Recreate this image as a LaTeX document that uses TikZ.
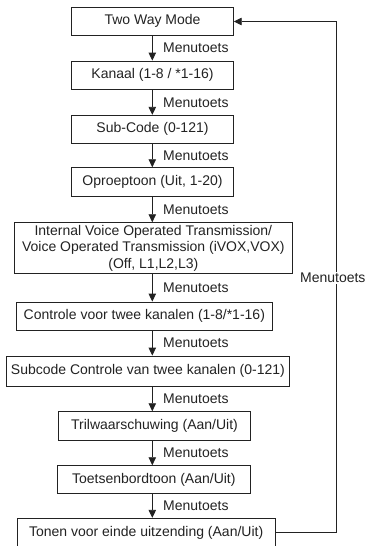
\documentclass[tikz,border=0pt]{standalone}
\usepackage{fontspec}
\setmainfont{Liberation Sans}
\usetikzlibrary{arrows.meta}
\definecolor{ink}{HTML}{222222}
\begin{document}
\begin{tikzpicture}[x=0.75pt,y=-0.75pt,
  box/.style={draw=ink,line width=0.65pt,inner sep=0pt,align=center,text=ink,
    font=\fontsize{10.5pt}{12.4pt}\selectfont},
  arr/.style={draw=ink,line width=0.65pt,-{Triangle[width=5.6pt,length=6pt]}},
  lab/.style={text=ink,font=\fontsize{10.5pt}{12.4pt}\selectfont,inner sep=0pt,anchor=west}]
\useasboundingbox (0,0) rectangle (370,546);
\newcommand{\mybox}[6]{%
  \node[box,minimum width={(#4-#2)*0.75pt},minimum height={(#5-#3)*0.75pt}]
    (#1) at ({(#2+#4)/2},{(#3+#5)/2}) {#6};}
\mybox{b1}{71.7}{7.3}{233.3}{35}{Two Way Mode}
\mybox{b2}{71.7}{61}{233.3}{89.3}{Kanaal (1-8 / *1-16)}
\mybox{b3}{71.7}{115.3}{233.3}{143.3}{Sub-Code (0-121)}
\mybox{b4}{71.7}{167.7}{233.3}{196.7}{Oproeptoon (Uit, 1-20)}
\mybox{b5}{14}{222.7}{292.7}{273.3}{Internal Voice Operated Transmission/\\Voice Operated Transmission (iVOX,VOX)\\(Off, L1,L2,L3)}
\mybox{b6}{16}{302}{272.7}{330}{Controle voor twee kanalen (1-8/*1-16)}
\mybox{b7}{6.5}{356}{289.3}{386.7}{Subcode Controle van twee kanalen (0-121)}
\mybox{b8}{58.3}{411.7}{250.7}{440}{Trilwaarschuwing (Aan/Uit)}
\mybox{b9}{57.7}{465.7}{250}{493.3}{Toetsenbordtoon (Aan/Uit)}
\mybox{b10}{17.3}{518.3}{275}{548}{Tonen voor einde uitzending (Aan/Uit)}
\coordinate (ax) at (152.3,0);
\foreach \a/\b in {b1/b2,b2/b3,b3/b4,b4/b5,b5/b6,b6/b7,b7/b8,b8/b9,b9/b10}{
  \draw[arr] (\a.south -| ax) -- (\b.north -| ax)
    node[lab,midway,xshift=10.5*0.75pt] (m\a) {Menutoets};
}
\coordinate (c1) at (336.7,532.5);
\coordinate (c2) at (336.7,21.5);
\draw[arr] (b10.east |- c1) -- (c1) -- (c2) -- (b1.east |- c2);
\node[text=ink,fill=white,inner sep=1pt,font=\fontsize{10.5pt}{12.4pt}\selectfont] (rl) at (332.8,278) {Menutoets};
\end{tikzpicture}
\end{document}
